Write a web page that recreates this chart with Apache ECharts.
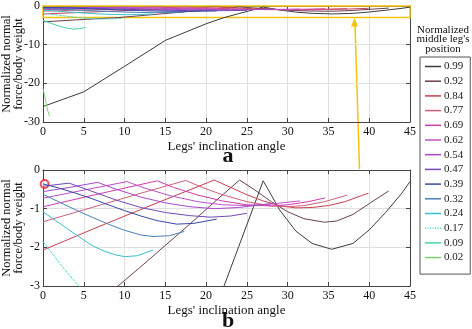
<!DOCTYPE html>
<html>
<head>
<meta charset="utf-8">
<script src="https://cdn.jsdelivr.net/npm/echarts@6/dist/echarts.min.js"></script>
<style>
  html, body { margin: 0; padding: 0; background: #fff; }
  #chart { width: 472px; height: 329px; }
</style>
</head>
<body>
<div id="chart"></div>
<script type="text/javascript">
// legend entries (normalized middle leg's position)
var positions = ['0.99', '0.92', '0.84', '0.77', '0.69', '0.62', '0.54', '0.47', '0.39', '0.32', '0.24', '0.17', '0.09', '0.02'];

// [inclination angle, normalized normal force]
var p99 = [[0,-26],[5,-22.2],[10,-15.6],[15,-8.9],[20,-4.6],[22.2,-3],[24,-1.98],[26,-0.85],[27,-0.28],[28,-0.65],[29,-1.03],[31,-1.58],[33,-1.9],[35.4,-2.05],[38,-1.9],[40,-1.55],[42,-1.1],[44,-0.6],[45,-0.3]];
var p92 = [[0,-4.1],[4,-3.6],[9.2,-3],[12,-2.5],[15,-1.95],[18,-1.4],[21,-0.83],[24.1,-0.26],[26,-0.52],[28,-0.82],[30,-1.08],[32,-1.26],[34.5,-1.35],[36,-1.32],[38,-1.15],[40,-0.87],[42.4,-0.54]];
var p84 = [[0,-2.07],[7,-1.45],[14,-0.85],[21,-0.26],[23,-0.45],[25,-0.64],[27,-0.8],[29,-0.92],[31,-0.98],[33,-0.97],[35,-0.92],[37,-0.82],[39.9,-0.6]];
var p77 = [[0,-1.34],[6,-0.97],[12,-0.6],[17.5,-0.27],[19.5,-0.45],[22,-0.64],[25,-0.82],[28,-0.93],[30,-0.95],[32,-0.92],[34.5,-0.82],[37.3,-0.65]];
var p69 = [[0,-0.95],[7,-0.61],[14,-0.28],[16,-0.45],[19,-0.65],[22,-0.8],[25,-0.9],[28,-0.93],[30,-0.9],[32.5,-0.82],[34.6,-0.72]];
var p62 = [[0,-0.73],[5,-0.52],[10.3,-0.3],[12.5,-0.47],[15.5,-0.66],[19,-0.82],[22,-0.9],[25,-0.92],[28,-0.88],[31.5,-0.8]];
var p54 = [[0,-0.56],[3.5,-0.44],[6.7,-0.32],[9,-0.5],[12,-0.7],[15,-0.85],[18,-0.95],[21,-1.0],[24,-0.97],[28.3,-0.86]];
var p47 = [[0,-0.42],[3.2,-0.34],[6,-0.55],[9,-0.78],[12,-0.97],[15,-1.1],[18,-1.18],[20.5,-1.22],[23,-1.19],[25,-1.12]];
var p39 = [[0,-0.36],[2,-0.47],[4,-0.6],[6,-0.74],[8,-0.9],[10,-1.05],[12,-1.19],[14,-1.31],[16.4,-1.4],[18.5,-1.38],[21.3,-1.27]];
var p32 = [[0,-0.63],[2,-0.83],[4,-1.03],[6,-1.22],[8,-1.4],[10,-1.56],[12,-1.68],[13.5,-1.72],[15.5,-1.7],[17.3,-1.59]];
var p24 = [[0,-1.08],[1.5,-1.3],[3,-1.52],[4.5,-1.74],[6,-1.95],[7.5,-2.1],[9,-2.2],[10,-2.24],[11.5,-2.22],[13.5,-2.07]];
var p17 = [[0,-1.85],[1,-2.12],[2,-2.4],[3,-2.66],[4.4,-3],[5.5,-3.2],[6.5,-3.32],[7.5,-3.36],[8.5,-3.32],[9.6,-3.22]];
var p09 = [[0,-3.7],[1,-4.5],[2,-5.2],[3,-5.75],[3.8,-6.0],[4.5,-5.85],[5.2,-5.55]];
var p02 = [[0,-21.3],[0.2,-23.2],[0.4,-25.3],[0.6,-27.2],[0.8,-28.5]];

// highlighted start point in panel b
var marked = [[0.2,-0.36]];

var curves = [p99, p92, p84, p77, p69, p62, p54, p47, p39, p32, p24, p17, p09, p02];
var colors = ['#3c3c3c', '#6a3f55', '#c8404f', '#d0607a', '#d23ca8', '#c050c8', '#a848c8', '#7448b8', '#3848a8', '#4a80b8', '#38c0d0', '#48dcd0', '#40d8a8', '#7ad870'];

var serif = 'Liberation Serif';
var yellow = '#f2c40c';
// thin legend glyphs (solid and dotted line)
var solidIcon = 'path://M0,0L32,0L32,3L0,3Z';
var dottedIcon = 'path://M0,0h2v3h-2zM5,0h2v3h-2zM10,0h2v3h-2zM15,0h2v3h-2zM20,0h2v3h-2zM25,0h2v3h-2zM30,0h2v3h-2z';

function buildSeries(idx) {
	return curves.map(function (d, i) {
		return {
			name: positions[i],
			type: 'line',
			xAxisIndex: idx * 2,
			yAxisIndex: idx * 2,
			data: d,
			symbol: 'none',
			showSymbol: false,
			silent: true,
			lineStyle: { width: 1, color: colors[i], type: positions[i] === '0.17' ? [3, 1] : 'solid' },
			itemStyle: { color: colors[i] }
		};
	});
}

function mainX(grid) {
	return {
		gridIndex: grid, type: 'value', min: 0, max: 45, interval: 5,
		name: "Legs' inclination angle", nameLocation: 'middle', nameGap: 18, nameMoveOverlap: false,
		nameTextStyle: { fontFamily: serif, fontSize: 13, color: '#111' },
		axisLine: { show: true, onZero: false, lineStyle: { color: '#444', width: 1 } },
		axisTick: { inside: true, length: 4, lineStyle: { color: '#444' } },
		axisLabel: { fontFamily: serif, fontSize: 12, color: '#111', margin: 4 },
		splitLine: { show: true, lineStyle: { color: '#e0e0e0', width: 1 } }
	};
}
function mirrorX(grid) {
	return {
		gridIndex: grid, type: 'value', min: 0, max: 45, interval: 5, position: 'top',
		axisLine: { show: true, onZero: false, lineStyle: { color: '#444', width: 1 } },
		axisTick: { inside: true, length: 4, lineStyle: { color: '#444' } },
		axisLabel: { show: false }, splitLine: { show: false }
	};
}
function mainY(grid, min, interval) {
	return {
		gridIndex: grid, type: 'value', min: min, max: 0, interval: interval,
		name: 'Normalized normal\nforce/body weight', nameLocation: 'middle', nameGap: 18, nameRotate: 90, nameMoveOverlap: false,
		nameTextStyle: { fontFamily: serif, fontSize: 12.5, color: '#111', lineHeight: 12 },
		axisLine: { show: true, onZero: false, lineStyle: { color: '#444', width: 1 } },
		axisTick: { inside: true, length: 4, lineStyle: { color: '#444' } },
		axisLabel: { fontFamily: serif, fontSize: 12, color: '#111', margin: 3 },
		splitLine: { show: true, lineStyle: { color: '#e0e0e0', width: 1 } }
	};
}
function mirrorY(grid, min, interval) {
	return {
		gridIndex: grid, type: 'value', min: min, max: 0, interval: interval, position: 'right',
		axisLine: { show: true, onZero: false, lineStyle: { color: '#444', width: 1 } },
		axisTick: { inside: true, length: 4, lineStyle: { color: '#444' } },
		axisLabel: { show: false }, splitLine: { show: false }
	};
}

var seriesA = buildSeries(0);
var seriesB = buildSeries(1);
// zoom window of panel b, drawn on panel a
seriesA[0].markArea = {
	silent: true,
	itemStyle: { color: 'rgba(0,0,0,0)', borderColor: yellow, borderWidth: 1.5 },
	data: [[{ coord: [0, 0] }, { coord: [45, -3] }]]
};

var option = {
	animation: false,
	backgroundColor: '#fff',
	grid: [
		{ left: 43, top: 6, width: 367, height: 116, containLabel: false, outerBoundsMode: 'none' },
		{ left: 43, top: 170, width: 367, height: 116, containLabel: false, outerBoundsMode: 'none' }
	],
	xAxis: [mainX(0), mirrorX(0), mainX(1), mirrorX(1)],
	yAxis: [mainY(0, -30, 10), mirrorY(0, -30, 10), mainY(1, -3, 1), mirrorY(1, -3, 1)],
	legend: {
		data: positions.map(function (n) {
			return { name: n, icon: n === '0.17' ? dottedIcon : solidIcon };
		}),
		orient: 'vertical',
		left: 420, top: 57,
		padding: [4, 7, 11, 5],
		itemWidth: 16, itemHeight: 10, itemGap: 3.7,
		symbolKeepAspect: true,
		borderColor: '#555', borderWidth: 1,
		selectedMode: false,
		textStyle: { fontFamily: serif, fontSize: 11, color: '#222', lineHeight: 10, padding: [0, 0, 0, -2] }
	},
	graphic: [
		{ type: 'text', x: 443, y: 25, style: { text: "Normalized\nmiddle leg's\nposition", font: '11px "Liberation Serif"', fill: '#111', align: 'center', verticalAlign: 'top', lineHeight: 9.5 } },
		{ type: 'text', x: 228, y: 156, style: { text: 'a', font: 'bold 22px "Liberation Serif"', fill: '#111', align: 'center', verticalAlign: 'middle' } },
		{ type: 'text', x: 228, y: 321, style: { text: 'b', font: 'bold 22px "Liberation Serif"', fill: '#111', align: 'center', verticalAlign: 'middle' } },
		{ type: 'line', shape: { x1: 355, y1: 24, x2: 359.5, y2: 169 }, style: { stroke: yellow, lineWidth: 1.5 } },
		{ type: 'polygon', shape: { points: [[354.5, 18], [351, 26.5], [358.2, 26.5]] }, style: { fill: yellow } }
	],
	series: seriesA.concat(seriesB).concat([{
		name: 'start', type: 'scatter', xAxisIndex: 2, yAxisIndex: 2, data: marked,
		symbol: 'emptyCircle', symbolSize: 8, silent: true, clip: false,
		itemStyle: { color: '#e8202a', borderColor: '#e8202a', borderWidth: 1.5 }
	}])
};

var chart = echarts.init(document.getElementById('chart'));
chart.setOption(option);
</script>
</body>
</html>
